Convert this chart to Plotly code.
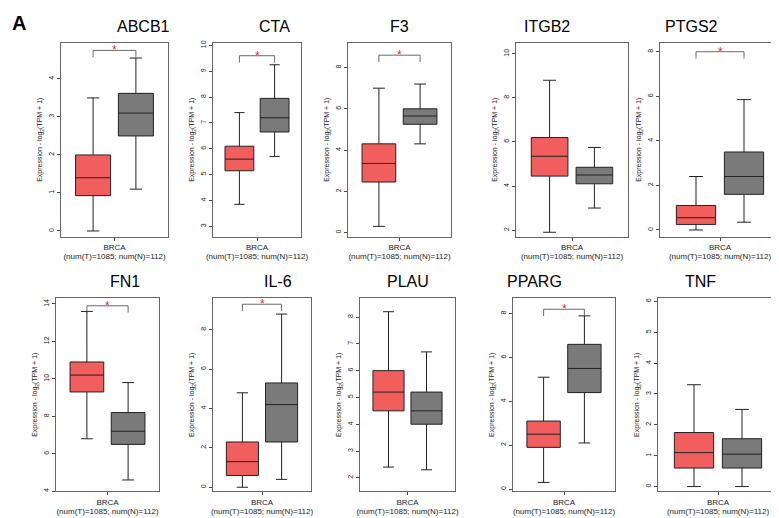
import plotly.graph_objects as go

W, H = 779, 518

genes = ["ABCB1", "CTA", "F3", "ITGB2", "PTGS2", "FN1", "IL-6", "PLAU", "PPARG", "TNF"]
# box stats: q1, median, q3, lower whisker, upper whisker
tumor_q1 = [0.93, 5.15, 2.45, 4.45, 0.25, 9.3, 0.6, 4.5, 1.9, 0.6]
tumor_med = [1.4, 5.6, 3.35, 5.35, 0.55, 10.2, 1.3, 5.2, 2.5, 1.1]
tumor_q3 = [2.0, 6.1, 4.3, 6.2, 1.1, 10.9, 2.3, 6.0, 3.1, 1.75]
tumor_lo = [0.0, 3.85, 0.3, 1.9, 0.0, 6.8, 0.0, 2.4, 0.3, 0.0]
tumor_hi = [3.5, 7.4, 7.0, 8.8, 2.4, 13.6, 4.8, 8.2, 5.1, 3.3]
normal_q1 = [2.5, 6.65, 5.25, 4.1, 1.6, 6.5, 2.3, 4.0, 4.4, 0.6]
normal_med = [3.1, 7.2, 5.65, 4.5, 2.4, 7.2, 4.2, 4.5, 5.5, 1.05]
normal_q3 = [3.62, 7.95, 6.0, 4.85, 3.5, 8.2, 5.3, 5.2, 6.6, 1.55]
normal_lo = [1.1, 5.7, 4.3, 3.0, 0.35, 4.6, 0.4, 2.3, 2.1, 0.0]
normal_hi = [4.55, 9.25, 7.2, 5.75, 5.85, 9.8, 8.8, 6.7, 7.9, 2.5]
significant = [True, True, True, False, True, True, True, False, True, False]
star_y = [4.75, 9.6, 8.6, None, 8.0, 13.9, 9.3, None, 8.2, None]
y_ranges = [[-0.15, 4.95], [2.6, 10.1], [-0.2, 9.2], [1.7, 10.5], [-0.3, 8.4],
            [4.0, 14.3], [-0.2, 9.6], [1.5, 8.7], [-0.1, 8.7], [-0.15, 6.1]]
dticks = [1, 1, 2, 2, 2, 2, 2, 1, 2, 1]

# panel frames in pixels: left, width, top, bottom
frames = [(53, 107, 33, 228), (205, 88, 33, 228), (340, 103, 33, 228), (508, 112, 33, 228),
          (652, 120, 33, 228), (48, 103, 290, 484), (205, 98, 290, 484), (352, 95, 290, 484),
          (505, 102, 290, 484), (650, 120, 290, 484)]

fig = go.Figure()
shapes, annos = [], []
for i, g in enumerate(genes):
    left, wd, top, bot = frames[i]
    x0, x1 = left / W, (left + wd) / W
    y0, y1 = 1 - bot / H, 1 - top / H
    n = "" if i == 0 else str(i + 1)
    xa, ya = "x" + n, "y" + n
    for pos, q1, med, q3, lo, hi, color in [
        (-0.22, tumor_q1, tumor_med, tumor_q3, tumor_lo, tumor_hi, "#f25d5d"),
        (0.22, normal_q1, normal_med, normal_q3, normal_lo, normal_hi, "#7a7a7a"),
    ]:
        fig.add_trace(go.Box(x=[pos], q1=[q1[i]], median=[med[i]], q3=[q3[i]],
                             lowerfence=[lo[i]], upperfence=[hi[i]], width=0.36,
                             fillcolor=color, line=dict(color="#222", width=1),
                             whiskerwidth=0.35, showlegend=False, hoverinfo="skip",
                             xaxis=xa, yaxis=ya))
    fig.layout["xaxis" + n] = dict(domain=[x0, x1], anchor=ya, range=[-0.55, 0.55],
                                   tickvals=[0], ticktext=["BRCA"], showgrid=False,
                                   zeroline=False, showline=True, mirror=True,
                                   linecolor="#666", ticks="outside", ticklen=3,
                                   tickfont=dict(size=8),
                                   title=dict(text="(num(T)=1085; num(N)=112)",
                                              font=dict(size=8), standoff=1))
    fig.layout["yaxis" + n] = dict(domain=[y0, y1], anchor=xa, range=y_ranges[i],
                                   dtick=dticks[i], showgrid=False, zeroline=False,
                                   showline=True, mirror=True, linecolor="#666",
                                   ticks="outside", ticklen=3, tickangle=-90,
                                   tickfont=dict(size=7),
                                   title=dict(text="Expression - log<sub>2</sub>(TPM + 1)",
                                              font=dict(size=7), standoff=4))
    annos.append(dict(text=g, x=(x0 + x1) / 2, y=y1 + 0.012, xref="paper", yref="paper",
                      yanchor="bottom", showarrow=False, font=dict(size=16, color="#000")))
    if significant[i]:
        sy = star_y[i]
        arm = sy - 0.035 * (y_ranges[i][1] - y_ranges[i][0])
        shapes.append(dict(type="path", xref=xa, yref=ya,
                           path=f"M -0.22 {arm} L -0.22 {sy} L 0.22 {sy} L 0.22 {arm}",
                           line=dict(color="#444", width=0.8)))
        annos.append(dict(text="*", x=0, y=sy, xref=xa, yref=ya, showarrow=False,
                          font=dict(size=12, color="#e0302f")))

annos.append(dict(text="<b>A</b>", x=0.003, y=1.0, xref="paper", yref="paper",
                  xanchor="left", yanchor="top", showarrow=False, font=dict(size=20, color="#000")))

fig.update_layout(width=W, height=H, margin=dict(l=0, r=0, t=0, b=0),
                  plot_bgcolor="white", paper_bgcolor="white",
                  font=dict(family="Liberation Sans, Arial", color="#222"),
                  shapes=shapes, annotations=annos)
fig.write_html("out.html")
